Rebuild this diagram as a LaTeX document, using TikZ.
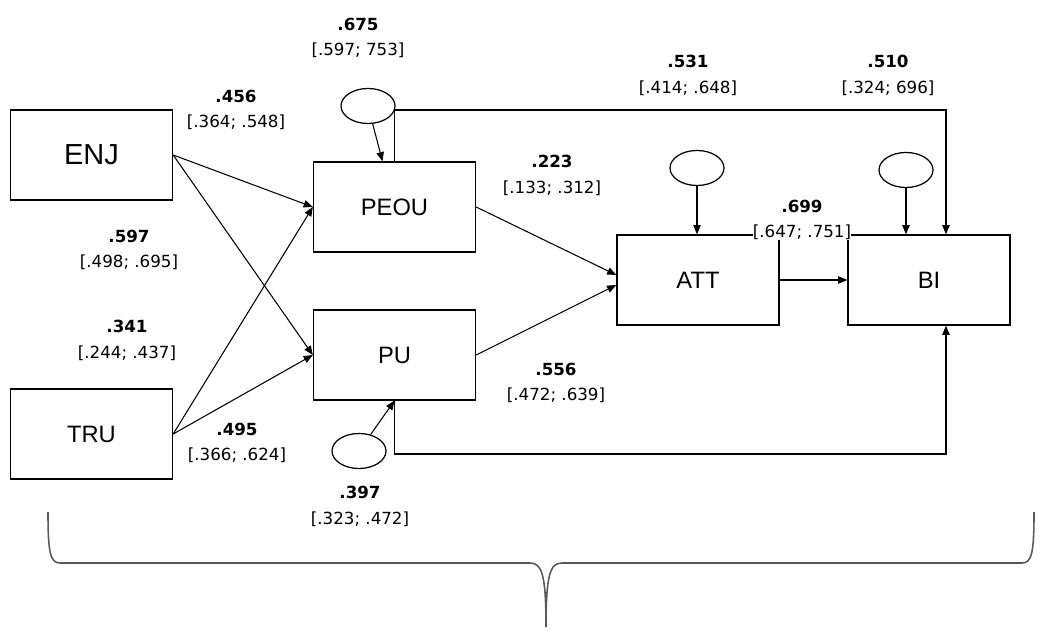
\documentclass[tikz,border=0pt]{standalone}
\usepackage{fontspec}
\setmainfont{Liberation Sans}
\newfontfamily\coeffont{DejaVu Sans}
\usetikzlibrary{%
	calc,%
	arrows.meta,%
	shapes.geometric,%
	positioning,%
}
\tikzset{
	>={Triangle[length=5.2pt,width=4.2pt]},%
	nodes={align=center},%
	construct/.style={%
			draw,%
			rectangle,%
			line width=0.8pt,%
			minimum width=3.24cm,%
			minimum height=1.8cm,%
			font=\fontsize{13.5}{16}\selectfont},%
	errnode/.style={%
			draw,%
			ellipse,%
			line width=0.7pt,%
			minimum width=1.08cm,%
			minimum height=0.7cm,%
			inner sep=0},%
	coefnode/.style={%
			inner sep=0,%
			font=\coeffont\fontsize{9.5}{14.7}\selectfont},%
	pathline/.style={%
			->,%
			line width=0.6pt},%
}
\newcommand{\pathcoef}[2]{\textbf{#1}\\{}#2}

\begin{document}
\begin{tikzpicture}[x=0.02cm, y=-0.02cm]%
	\useasboundingbox (0,0) rectangle (1048,631);

	\node[construct, font=\fontsize{16.5}{19}\selectfont] (enj) at (91.5,155) {ENJ};
	\node[construct] (tru) at (91.5,434) {TRU};
	\node[construct] (peou) at (394.5,207) {PEOU};
	\node[construct] (pu) at (394.5,355) {PU};
	\node[construct] (att) at (698,280) {ATT};
	\node[construct] (bi) at (929,280) {BI};

	\node[errnode] (epeou) at (368,106) {};
	\node[errnode] (epu) at (359,451) {};
	\node[errnode] (eatt) at (697,168) {};
	\node[errnode] (ebi) at (906,170) {};

	\coordinate (topline) at (946,110);
	\coordinate (botline) at (946,454);

	\draw[pathline] (enj.east) to (peou.west);
	\draw[pathline] (enj.east) to (pu.west);
	\draw[pathline] (tru.east) to (peou.west);
	\draw[pathline] (tru.east) to (pu.west);
	\draw[pathline] (peou.east) to ($(att.west)+(0,-5)$);
	\draw[pathline] (pu.east) to ($(att.west)+(0,5)$);
	\draw[pathline] (att) to (bi);
	\draw[pathline] (epeou) to ($(peou.north)+(-12,0)$);
	\draw[pathline] (epu) to (pu.south);
	\draw[pathline] (eatt) to (eatt |- att.north);
	\draw[pathline] (ebi) to (ebi |- bi.north);
	\draw[pathline] (peou.north) |- (topline) to (topline |- bi.north);
	\draw[pathline] (pu.south) |- (botline) to (botline |- bi.south);

	\node[coefnode] (c675) at (358,38) {\pathcoef{.675}{[.597; 753]}};
	\node[coefnode] (c456) at (236,110) {\pathcoef{.456}{[.364; .548]}};
	\node[coefnode] (c531) at (688,75) {\pathcoef{.531}{[.414; .648]}};
	\node[coefnode] (c510) at (888,75) {\pathcoef{.510}{[.324; 696]}};
	\node[coefnode] (c223) at (552,175) {\pathcoef{.223}{[.133; .312]}};
	\node[coefnode, fill=white] (c699) at (802,220) {\pathcoef{.699}{[.647; .751]}};
	\node[coefnode] (c597) at (129,250) {\pathcoef{.597}{[.498; .695]}};
	\node[coefnode] (c341) at (127,340) {\pathcoef{.341}{[.244; .437]}};
	\node[coefnode] (c556) at (556,383) {\pathcoef{.556}{[.472; .639]}};
	\node[coefnode] (c495) at (237,443) {\pathcoef{.495}{[.366; .624]}};
	\node[coefnode] (c397) at (360,506) {\pathcoef{.397}{[.323; .472]}};

	% brace under the model
	\draw[black!65, line width=0.9pt] (48,512) .. controls (48,552) and (50,563) .. (60,563) -- (530,563)
		.. controls (542,563) and (546,575) .. (546,627)
		.. controls (546,575) and (550,563) .. (562,563) -- (1022,563)
		.. controls (1032,563) and (1034,552) .. (1034,512);
\end{tikzpicture}
\end{document}
